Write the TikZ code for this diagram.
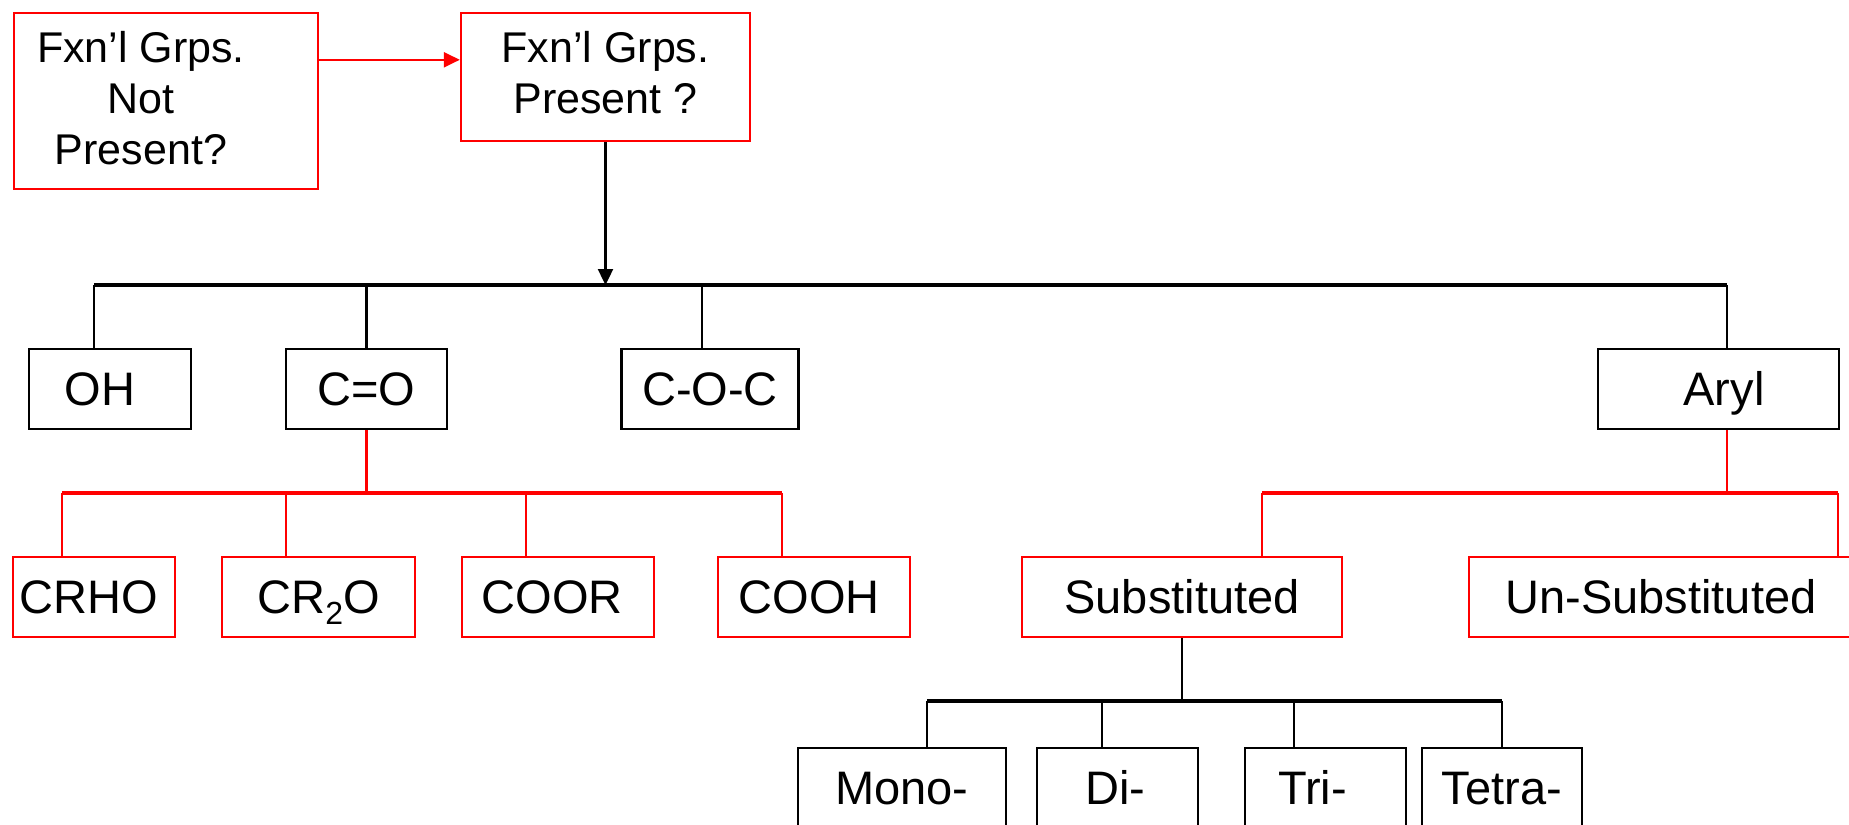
\documentclass[tikz,border=0pt]{standalone}
\usepackage{fontspec}
\setmainfont{Liberation Sans}
\usetikzlibrary{arrows.meta,calc}
\definecolor{pptred}{RGB}{255,0,0}
\begin{document}
\begin{tikzpicture}[x=0.5pt,y=-0.5pt,
  basebox/.style={line width=1.2pt,inner sep=0pt,minimum height=40pt,
    font=\fontsize{23.5}{28}\selectfont,text height=16.8pt,text depth=0pt},
  blackbox/.style={basebox,draw=black},
  redbox/.style={basebox,draw=pptred},
  toptext/.style={inner sep=0pt,align=center,font=\fontsize{21.5}{25.5}\selectfont},
  blackline/.style={draw=black,line width=1.2pt},
  redline/.style={draw=pptred,line width=1.2pt},
  blackbus/.style={draw=black,line width=1.6pt},
  redbus/.style={draw=pptred,line width=1.6pt},
  tip/.style={-{Triangle[length=8pt,width=7.5pt]}}
]
\useasboundingbox (0,0) rectangle (1849,825);
\clip (0,0) rectangle (1849,825);

% top boxes
\node[draw=pptred,line width=1.2pt,minimum width=152pt,minimum height=88pt,inner sep=0pt] (np) at (166,101) {};
\node[toptext] (nptext) at (141,98.5) {Fxn’l Grps.\\Not\\Present?};
\node[draw=pptred,line width=1.2pt,minimum width=144.5pt,minimum height=64pt,inner sep=0pt] (pr) at (605.5,77) {};
\node[toptext] (prtext) at (605.5,73) {Fxn’l Grps.\\Present ?};

% row 2
\node[blackbox,minimum width=81pt] (oh) at (110,389) {\hspace*{-10pt}OH};
\node[blackbox,minimum width=80.5pt] (co) at (366.5,389) {C=O};
\node[blackbox,minimum width=88.5pt] (coc) at (710,389) {C-O-C};
\node[blackbox,minimum width=120.5pt] (aryl) at (1718.5,389) {\hspace*{5.5pt}Aryl};

% row 3
\node[redbox,minimum width=81pt] (crho) at (94,597) {\hspace*{-5pt}CRHO};
\node[redbox,minimum width=96.5pt] (cr2o) at (318.5,597) {CR\raisebox{-5.5pt}{\fontsize{16}{16}\selectfont 2}O};
\node[redbox,minimum width=96pt] (coor) at (558,597) {\hspace*{-6pt}COOR};
\node[redbox,minimum width=96pt] (cooh) at (814,597) {\hspace*{-5pt}COOH};
\node[redbox,minimum width=160pt] (sub) at (1182,597) {Substituted};
\node[redbox,minimum width=195.5pt] (unsub) at (1664.5,597) {\hspace*{-3.5pt}Un-Substituted};

% row 4
\node[blackbox,minimum width=104pt] (mono) at (902,788) {Mono-};
\node[blackbox,minimum width=80.5pt] (di) at (1117.5,788) {\hspace*{-2pt}Di-};
\node[blackbox,minimum width=80.5pt] (tri) at (1325.5,788) {\hspace*{-13pt}Tri-};
\node[blackbox,minimum width=80pt] (tetra) at (1502,788) {Tetra-};

% bus coordinates
\coordinate (busL) at (94,285);
\coordinate (busR) at (1727,285);
\coordinate (t3) at (702,285);
\coordinate (rL) at (62,493);
\coordinate (r2) at (286,493);
\coordinate (r3) at (526,493);
\coordinate (rR) at (782,493);
\coordinate (aL) at (1262,493);
\coordinate (aR) at (1838,493);
\coordinate (sL) at (927,701);
\coordinate (s2) at (1102,701);
\coordinate (s3) at (1294,701);
\coordinate (sR) at (1502,701);

% top arrows
\draw[redline,tip] ($(np.north east)+(0,48)$) -- ($(pr.north west)+(0,48)$);
\draw[blackline,tip] (pr.south) -- (pr.south |- busL);

% main bus
\draw[blackbus] (busL) -- (busR);
\draw[blackline] (busL) -- (busL |- oh.north);
\draw[blackline] (co.north |- busL) -- (co.north);
\draw[blackline] (t3) -- (t3 |- coc.north);
\draw[blackline] (busR) -- (busR |- aryl.north);

% C=O branch
\draw[redline] (co.south) -- (co.south |- rL);
\draw[redbus] (rL) -- (rR);
\draw[redline] (rL) -- (rL |- crho.north);
\draw[redline] (r2) -- (r2 |- cr2o.north);
\draw[redline] (r3) -- (r3 |- coor.north);
\draw[redline] (rR) -- (rR |- cooh.north);

% Aryl branch
\draw[redline] (busR |- aryl.south) -- (busR |- aL);
\draw[redbus] (aL) -- (aR);
\draw[redline] (aL) -- (aL |- sub.north);
\draw[redline] (aR) -- (aR |- unsub.north);

% Substituted branch
\draw[blackline] (sub.south) -- (sub.south |- sL);
\draw[blackbus] (sL) -- (sR);
\draw[blackline] (sL) -- (sL |- mono.north);
\draw[blackline] (s2) -- (s2 |- di.north);
\draw[blackline] (s3) -- (s3 |- tri.north);
\draw[blackline] (sR) -- (sR |- tetra.north);
\end{tikzpicture}
\end{document}
